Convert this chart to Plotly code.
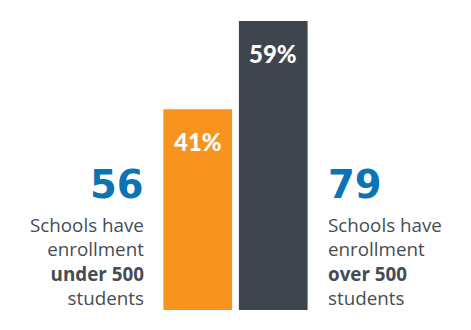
import plotly.graph_objects as go

categories = ["under", "over"]
shares = [41, 59]
share_labels = ["41%", "59%"]
bar_colors = ["#F7941D", "#3E454D"]
counts = ["56", "79"]
descriptions = [
    "Schools have<br>enrollment<br><b>under 500</b><br>students",
    "Schools have<br>enrollment<br><b>over 500</b><br>students",
]

fig = go.Figure()
fig.add_trace(go.Bar(
    x=categories, y=shares, marker=dict(color=bar_colors, line=dict(width=0)),
    width=0.91, hoverinfo="skip",
))

ann = []
for i, (c, v, lab) in enumerate(zip(categories, shares, share_labels)):
    ann.append(dict(x=i, y=v, xref="x", yref="y", text=lab, showarrow=False,
                    yanchor="top", yshift=-16,
                    font=dict(family="Lato", size=24, color="white", weight=900)))

side = [(-0.1126, "right", 3), (1.1126, "left", -2)]
for (xpos, anchor, xs), num, desc in zip(side, counts, descriptions):
    ann.append(dict(x=xpos, y=0.3875, xref="paper", yref="paper", text=num, showarrow=False,
                    xanchor=anchor, yanchor="bottom", align=anchor, xshift=xs, yshift=-11,
                    font=dict(family="DejaVu Sans", size=38.5, color="#0B74B4", weight=900)))
    ann.append(dict(x=xpos, y=0.3875, xref="paper", yref="paper", text=desc, showarrow=False,
                    xanchor=anchor, yanchor="top", align=anchor, xshift=xs, yshift=-12,
                    font=dict(family="Open Sans", size=18.8, color="#464C53")))

fig.update_layout(
    width=471, height=330,
    margin=dict(l=160, r=160, t=21, b=20, pad=0),
    paper_bgcolor="white", plot_bgcolor="white",
    showlegend=False,
    xaxis=dict(visible=False, range=[-0.5, 1.5]),
    yaxis=dict(visible=False, range=[0, 59]),
    annotations=ann,
)
fig.write_html("out.html")
